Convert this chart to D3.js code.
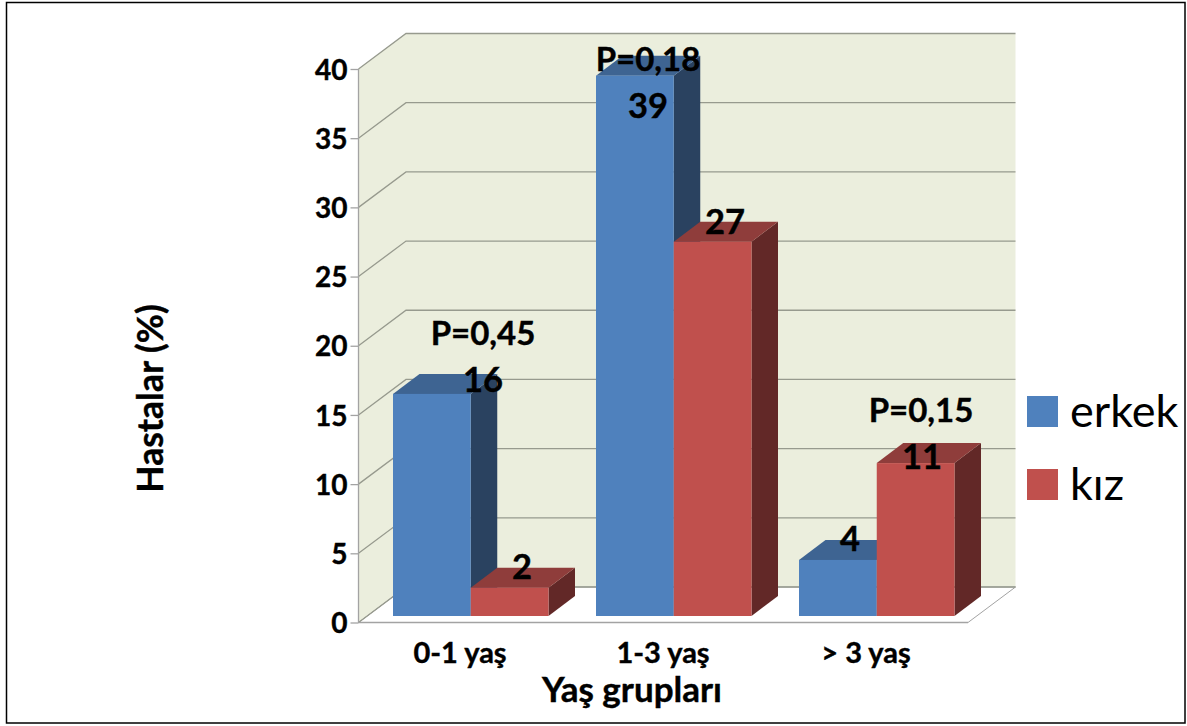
<!DOCTYPE html>
<html><head><meta charset="utf-8">
<script src="https://cdn.jsdelivr.net/npm/d3@7"></script>
<style>html,body{margin:0;padding:0;background:#fff}svg{display:block}text{font-family:Lato,"Open Sans",sans-serif}</style>
</head><body><div id="chart"></div>
<script>
const categories=["0-1 yaş","1-3 yaş","> 3 yaş"];
const seriesNames=["erkek","kız"];
const erkek=[16,39,4];
const kiz=[2,27,11];
const yTicks=[0,5,10,15,20,25,30,35,40];
const pLabels=["P=0,45","P=0,18","P=0,15"];
const seriesValues=[erkek,kiz];
const W=1187,H=726;
const colors={front:["#4f81bd","#c0504d"],top:["#3e6492","#8f3d3b"],side:["#2a4260","#622827"]};
const svg=d3.select("#chart").append("svg").attr("width",W).attr("height",H);
svg.append("rect").attr("x",6.5).attr("y",2.5).attr("width",1178.5).attr("height",720.5).attr("fill","#fff").attr("stroke","#000").attr("stroke-width",1.5);
const x0=358.5,x1=968,depthX=47.5,depthY=-35.5;
const y=d3.scaleLinear().domain([0,40]).range([622.5,69]);
const xs=d3.scaleBand().domain(seriesNames).range([0,155.5]);
const line=d3.line();
const wallBottom=y(0),wallTop=y(40);
svg.append("path").attr("fill","#ebeedd").attr("d",line([[x0,wallBottom],[x0,wallTop],[x0+depthX,wallTop+depthY],[x1+depthX,wallTop+depthY],[x1+depthX,wallBottom+depthY],[x0+depthX,wallBottom+depthY]])+"Z");
svg.append("path").attr("fill","#fff").attr("stroke","#a3a3a3").attr("d",line([[x0,wallBottom],[x0+depthX,wallBottom+depthY],[x1+depthX,wallBottom+depthY],[x1,wallBottom]])+"Z");
const grid=svg.append("g").attr("fill","none").attr("stroke","#979a8e").attr("stroke-width",1.3);
yTicks.forEach(t=>{
  grid.append("path").attr("d",line([[x0,y(t)],[x0+depthX,y(t)+depthY],[x1+depthX,y(t)+depthY]]));
});
svg.append("line").attr("x1",x0).attr("x2",x0).attr("y1",wallTop).attr("y2",wallBottom).attr("stroke","#a3a3a3").attr("stroke-width",1.3);
svg.append("line").attr("x1",x0).attr("x2",x1).attr("y1",wallBottom).attr("y2",wallBottom).attr("stroke","#a3a3a3").attr("stroke-width",1.5);
const axis=d3.axisLeft(y).tickValues(yTicks).tickSize(8).tickPadding(3);
const ag=svg.append("g").attr("transform",`translate(${x0},0)`).call(axis);
ag.select(".domain").remove();
ag.selectAll("line").attr("stroke","#a3a3a3").attr("stroke-width",1.3);
ag.selectAll("text").attr("font-size",28).attr("font-weight",700).attr("fill","#000").attr("stroke","#000").attr("stroke-width",0.4).attr("dy","0.36em");
const barOffset=7.2,bx=26.5,by=-20,catLeft=[393,596,799];
const bars=svg.append("g");
categories.forEach((c,ci)=>{
  seriesNames.forEach((s,si)=>{
    const v=seriesValues[si][ci];
    const l=catLeft[ci]+xs(s),w=xs.bandwidth(),t=y(v)-barOffset,b=y(0)-6.5;
    bars.append("path").attr("fill",colors.side[si]).attr("d",line([[l+w,t],[l+w+bx,t+by],[l+w+bx,b+by],[l+w,b]])+"Z");
    bars.append("path").attr("fill",colors.top[si]).attr("d",line([[l,t],[l+bx,t+by],[l+w+bx,t+by],[l+w,t]])+"Z");
    bars.append("rect").attr("fill",colors.front[si]).attr("x",l).attr("y",t).attr("width",w).attr("height",b-t);
  });
});
const T=(px,py,str,size,anchor="middle",weight=700)=>svg.append("text").attr("x",px).attr("y",py).attr("text-anchor",anchor).attr("font-size",size).attr("font-weight",weight).attr("fill","#000").attr("stroke","#000").attr("stroke-width",weight>=700?0.4:0).text(str);
const valuePos=[[[483,392],[522,579]],[[648,118],[725,234]],[[850,551],[922,469]]];
categories.forEach((c,ci)=>seriesNames.forEach((s,si)=>T(valuePos[ci][si][0],valuePos[ci][si][1],seriesValues[si][ci],34.5)));
const pPos=[[483,345],[648,71],[921,422]];
pLabels.forEach((p,i)=>T(pPos[i][0],pPos[i][1],p,33));
const catCx=[460,663,866];
categories.forEach((c,i)=>T(catCx[i],663,c,29));
T(632,702,"Yaş grupları",35);
svg.append("text").attr("transform","translate(163,398.5) rotate(-90)").attr("text-anchor","middle").attr("font-size",35.5).attr("font-weight",700).attr("fill","#000").attr("stroke","#000").attr("stroke-width",0.4).text("Hastalar (%)");
const legY=[396,469];
seriesNames.forEach((s,i)=>{
  svg.append("rect").attr("x",1027).attr("y",legY[i]).attr("width",31).attr("height",31).attr("fill",colors.front[i]);
  T(1070,legY[i]+31,s,45,"start",400);
});
</script></body></html>
